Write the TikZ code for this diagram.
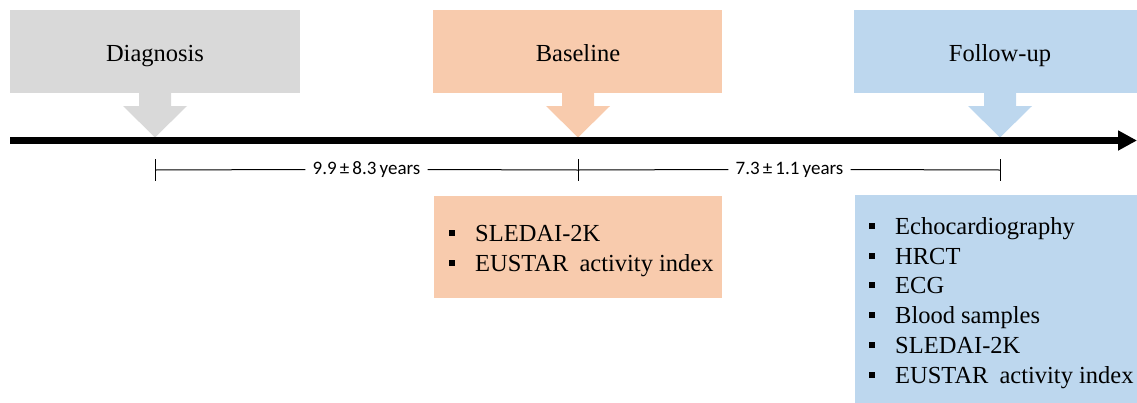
\documentclass[tikz,border=0pt]{standalone}
\usepackage{fontspec}
\setmainfont{Liberation Serif}
\newfontfamily\serifface{Liberation Serif}
\newfontfamily\labelfont{Carlito}
\usetikzlibrary{arrows.meta}
\definecolor{cgray}{HTML}{D9D9D9}
\definecolor{corange}{HTML}{F8CBAD}
\definecolor{cblue}{HTML}{BDD7EE}
\newcommand{\listbul}{\makebox[26pt][l]{\rule[5.5pt]{6pt}{6pt}}}
\begin{document}
\begin{tikzpicture}[x=1pt,y=-1pt,
  topbox/.style={minimum width=290pt, minimum height=83pt, inner sep=0pt, anchor=north west},
  lowbox/.style={inner sep=0pt, anchor=north west},
  headtext/.style={anchor=base, inner sep=0pt, font=\serifface\fontsize{24.5}{29}\selectfont},
  itemtext/.style={anchor=base west, inner sep=0pt, font=\serifface\fontsize{24.5}{29}\selectfont},
  durlabel/.style={fill=white, inner xsep=7pt, inner ysep=2pt, font=\labelfont\fontsize{19}{22}\selectfont},
  dimline/.style={line width=1pt, black},
  timeline/.style={line width=6.5pt, black, -{Triangle[length=19pt,width=19pt]}}
]
\useasboundingbox (0,0) rectangle (1137,402);
\clip (0,0) rectangle (1137,402);

% top boxes
\node[topbox, fill=cgray] (diag) at (10,10) {};
\node[topbox, fill=corange, minimum width=289pt] (base) at (433,10) {};
\node[topbox, fill=cblue, minimum width=292pt] (foll) at (854,10) {};

\node[headtext] (diagt) at (155,61) {Diagnosis};
\node[headtext] (baset) at (578,61) {Baseline};
\node[headtext] (follt) at (1000,61) {Follow-up};

% down arrows
\foreach \cx/\col in {155/cgray,578/corange,1000/cblue}{
  \fill[\col] (\cx-16,92) -- (\cx-16,106) -- (\cx-32,106) -- (\cx,137.5) -- (\cx+32,106) -- (\cx+16,106) -- (\cx+16,92) -- cycle;
}

% timeline
\coordinate (tlstart) at (10,140.5);
\coordinate (tlend) at (1137,140.5);
\draw[timeline] (tlstart) -- (tlend);

% durations
\coordinate (t1) at (155,170);
\coordinate (t2) at (578,170);
\coordinate (t3) at (1000,170);
\node[durlabel] (l1) at (366.5,169.5) {9.9\,\char"00B1\,8.3\,years};
\node[durlabel] (l2) at (789.5,169.5) {7.3\,\char"00B1\,1.1\,years};
\draw[dimline] (t1) -- (l1.west);
\draw[dimline] (l1.east) -- (t2) -- (l2.west);
\draw[dimline] (l2.east) -- (t3);
\foreach \t in {t1,t2,t3}{
  \draw[dimline] ([yshift=-10.5pt]\t) -- ([yshift=11pt]\t);
}

% lower boxes
\node[lowbox, fill=corange, minimum width=288pt, minimum height=102pt] (basedata) at (434,196) {};
\node[lowbox, fill=cblue, minimum width=292pt, minimum height=210pt] (folldata) at (855,195) {};

\node[itemtext] (b1) at (449,241.7) {\listbul SLEDAI-2K};
\node[itemtext] (b2) at (449,271.0) {\listbul EUSTAR\hspace{11pt}activity index};

\node[itemtext] (f1) at (869,234.3) {\listbul Echocardiography};
\node[itemtext] (f2) at (869,264.1) {\listbul HRCT};
\node[itemtext] (f3) at (869,293.9) {\listbul ECG};
\node[itemtext] (f4) at (869,323.7) {\listbul Blood samples};
\node[itemtext] (f5) at (869,353.5) {\listbul SLEDAI-2K};
\node[itemtext] (f6) at (869,383.3) {\listbul EUSTAR\hspace{11pt}activity index};
\end{tikzpicture}
\end{document}
